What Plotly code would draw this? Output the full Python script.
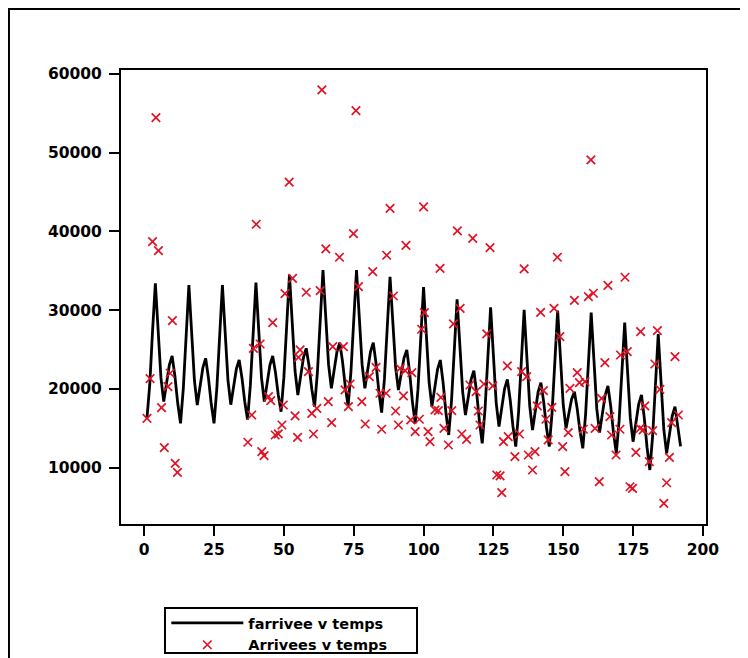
import plotly.graph_objects as go

# Fitted series "farrivee" (monthly, t = 1..192)
temps_fit = list(range(1, 193))
farrivee = [
    16300, 20600, 27400, 33400, 27400, 21400, 18400, 20720, 23040, 24200, 21630, 18210,
    15640, 20030, 27050, 33200, 27100, 21010, 17960, 20330, 22700, 23890, 21415, 18115,
    15640, 20030, 27050, 33200, 27120, 21040, 18000, 20270, 22540, 23670, 21400, 18370,
    16100, 20450, 27410, 33500, 27460, 21410, 18390, 20710, 23030, 24190, 22070, 19230,
    17110, 21460, 28410, 34500, 28390, 22280, 19230, 21600, 23970, 25160, 22940, 19970,
    17750, 22090, 29030, 35100, 29090, 23080, 20070, 22390, 24720, 25880, 23470, 20250,
    17840, 22155, 29060, 35100, 29090, 23080, 20070, 22390, 24720, 25880, 23210, 19660,
    16990, 21305, 28210, 34250, 28500, 22750, 19870, 21900, 23930, 24950, 22160, 18430,
    15640, 19970, 26890, 32950, 26870, 20790, 17750, 20120, 22490, 23670, 20810, 17010,
    14150, 18460, 25360, 31390, 25510, 19630, 16690, 18940, 21190, 22320, 19550, 15870,
    13100, 17420, 24330, 30370, 24310, 18240, 15210, 17610, 20020, 21220, 18660, 15240,
    12670, 17010, 23950, 30030, 23930, 17840, 14790, 17190, 19600, 20800, 18360, 15110,
    12670, 16990, 23900, 29940, 23960, 17990, 15000, 16860, 18720, 19650, 17490, 14620,
    12460, 16770, 23660, 29690, 23590, 17500, 14450, 16820, 19190, 20380, 17810, 14390,
    11820, 15970, 22610, 28420, 22370, 16320, 13300, 15670, 18040, 19230, 16370, 12570,
    9710, 14030, 20940, 26980, 20920, 14850, 11820, 14190, 16560, 17750, 15300, 12700,
]

# Observed "Arrivees"
temps_obs = [
    1.0, 2.1, 3.0, 4.2, 5.1, 6.2, 7.2, 8.5, 9.3, 10.1, 11.1, 11.9,
    37.1, 38.5, 39.1, 40.1, 41.5, 42.1, 42.9, 44.5, 45.3, 46.0, 46.9, 48.0,
    49.3, 49.8, 50.4, 51.9, 53.1, 54.0, 54.9, 55.2, 55.8, 58.0, 58.8, 60.0,
    60.6, 61.8, 63.0, 63.6, 65.0, 65.9, 67.1, 67.5, 69.9, 71.3, 71.9, 73.1,
    73.7, 74.9, 75.8, 76.7, 77.9, 79.1, 80.6, 81.8, 83.0, 84.4, 85.0, 86.6,
    86.8, 88.0, 89.2, 90.0, 91.0, 91.6, 92.8, 93.4, 93.7, 95.4, 95.8, 97.0,
    98.5, 99.3, 100.0, 100.3, 101.6, 102.3, 104.1, 105.3, 105.9, 106.2, 107.3, 108.9,
    110.1, 110.7, 112.1, 113.1, 113.7, 115.4, 116.6, 117.6, 118.8, 119.6, 120.2, 121.6,
    122.6, 123.8, 124.8, 126.2, 127.4, 128.0, 128.6, 130.0, 130.3, 132.7, 134.3, 135.1,
    136.0, 136.9, 137.5, 139.0, 139.9, 140.7, 141.9, 142.9, 143.8, 144.6, 145.9, 146.7,
    147.9, 148.8, 149.8, 150.6, 151.8, 152.4, 154.0, 155.0, 155.8, 157.2, 157.8, 159.0,
    159.9, 160.8, 161.4, 162.9, 163.7, 164.9, 166.0, 166.7, 167.3, 168.9, 170.3, 170.5,
    172.1, 172.9, 173.9, 174.8, 176.0, 177.5, 177.7, 178.6, 179.2, 180.8, 182.0, 182.8,
    183.7, 184.6, 186.0, 187.0, 188.0, 188.8, 190.0, 191.2,
]
arrivees = [
    16270, 21300, 38700, 54450, 37560, 17620, 12540, 20290, 21990, 28670, 10560, 9415,
    13230, 16690, 25160, 40910, 25710, 12030, 11530, 19020, 18510, 28420, 14150, 14300,
    15420, 17960, 32100, 46250, 34050, 16570, 13860, 24020, 24950, 32280, 22190, 16910,
    14280, 17540, 32480, 57970, 37775, 18390, 15720, 25370, 36720, 25370, 19870, 17750,
    20630, 39720, 55340, 32990, 18390, 15550, 21560, 34900, 22750, 19450, 14880, 19450,
    36975, 42940, 31800, 17200, 15420, 22620, 19110, 22320, 38240, 16060, 22070, 14570,
    16150, 27580, 43110, 29690, 14570, 13300, 17330, 17240, 35320, 18940, 15000, 12880,
    17240, 28250, 40060, 30240, 14280, 13600, 20500, 39130, 19650, 17200, 15420, 20630,
    26980, 37940, 20380, 9070, 8950, 6830, 13300, 22920, 13940, 11400, 14280, 22190,
    35235, 21560, 11610, 9710, 12030, 17840, 29730, 19780, 16150, 13520, 17670, 30240,
    36720, 26640, 12670, 9490, 14450, 20070, 31250, 22070, 20800, 14880, 20920, 31720,
    49080, 32150, 15000, 8220, 18810, 23340, 33150, 16480, 14150, 11610, 14880, 24310,
    34180, 24730, 7580, 7380, 11950, 15000, 27270, 14790, 17840, 10760, 14700, 23170,
    27400, 19950, 5480, 8090, 11320, 15720, 24100, 16690,
]

x_ticks = [0, 25, 50, 75, 100, 125, 150, 175, 200]
y_ticks = [10000, 20000, 30000, 40000, 50000, 60000]

FONT = "DejaVu Sans, sans-serif"

fig = go.Figure()
fig.add_trace(go.Scatter(
    x=temps_fit, y=farrivee, mode="lines", name="farrivee v temps",
    line=dict(color="black", width=2.8),
))
fig.add_trace(go.Scatter(
    x=temps_obs, y=arrivees, mode="markers", name="Arrivees v temps",
    marker=dict(symbol="x-thin", size=8.5, line=dict(color="rgb(222,20,38)", width=1.7),
                color="rgb(222,20,38)"),
))

axis_common = dict(
    showgrid=False, zeroline=False, showline=True, linecolor="black", linewidth=2,
    mirror=True, ticks="outside", ticklen=10, tickwidth=2, tickcolor="black",
    tickfont=dict(family=FONT, size=15.5, color="black", weight="bold"),
)
fig.update_xaxes(range=[-8.3, 201.1], tickvals=x_ticks, tickformat="d", **axis_common)
fig.update_yaxes(range=[2850, 60500], tickvals=y_ticks, tickformat="d",
                 ticklabelstandoff=4, **axis_common)

# outer frame (page frame around the whole graphic)
fig.add_shape(type="rect", xref="paper", yref="paper",
              x0=-0.1915, x1=1.1, y0=-0.33, y1=1.1344,
              line=dict(color="black", width=2), fillcolor="rgba(0,0,0,0)", layer="below")
# legend box frame
fig.add_shape(type="rect", xref="paper", yref="paper",
              x0=0.0752, x1=0.506, y0=-0.2841, y1=-0.185,
              line=dict(color="black", width=2), fillcolor="white", layer="below")

fig.update_layout(
    width=740, height=650,
    margin=dict(l=113, r=42, t=62, b=134, autoexpand=False),
    paper_bgcolor="white", plot_bgcolor="white",
    showlegend=True,
    legend=dict(
        x=0.0775, y=-0.1828, xanchor="left", yanchor="top",
        borderwidth=0, bgcolor="rgba(0,0,0,0)",
        font=dict(family=FONT, size=14.5, color="black", weight="bold"),
        itemwidth=72, tracegroupgap=0,
    ),
)

fig.write_html("out.html")
